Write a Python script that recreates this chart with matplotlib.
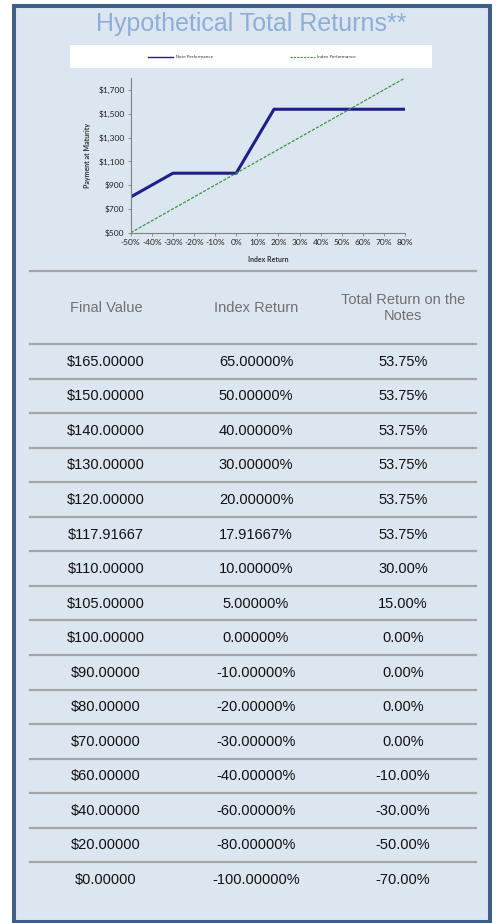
import matplotlib
matplotlib.use('Agg')
import matplotlib.pyplot as plt
from matplotlib.patches import Rectangle
from matplotlib.lines import Line2D

# chart data
note_x = [-50, -30, 0, 17.91667, 80]
note_payment = [800, 1000, 1000, 1537.5, 1537.5]
index_x = [-50, 80]
index_payment = [500, 1800]
x_ticks = list(range(-50, 81, 10))
y_ticks = [500, 700, 900, 1100, 1300, 1500, 1700]

# table data
headers = ['Final Value', 'Index Return', 'Total Return on the\nNotes']
final_values = ['$165.00000', '$150.00000', '$140.00000', '$130.00000', '$120.00000',
                '$117.91667', '$110.00000', '$105.00000', '$100.00000', '$90.00000',
                '$80.00000', '$70.00000', '$60.00000', '$40.00000', '$20.00000', '$0.00000']
index_returns = ['65.00000%', '50.00000%', '40.00000%', '30.00000%', '20.00000%',
                 '17.91667%', '10.00000%', '5.00000%', '0.00000%', '-10.00000%',
                 '-20.00000%', '-30.00000%', '-40.00000%', '-60.00000%', '-80.00000%',
                 '-100.00000%']
note_returns = ['53.75%', '53.75%', '53.75%', '53.75%', '53.75%', '53.75%', '30.00%',
                '15.00%', '0.00%', '0.00%', '0.00%', '0.00%', '-10.00%', '-30.00%',
                '-50.00%', '-70.00%']

W, H = 498, 923
bg = '#dce6f1'
fig = plt.figure(figsize=(W / 100, H / 100), dpi=100)
fig.patch.set_facecolor('white')

def fx(px):
    return px / W

def fy(py):
    return 1 - py / H

# panel with border
fig.patches.append(Rectangle((fx(14), fy(921.5)), fx(489.5) - fx(14), fy(6) - fy(921.5),
                             transform=fig.transFigure, facecolor=bg, edgecolor='#3d5f8c',
                             linewidth=2.9, zorder=-5))

fig.text(fx(251), fy(23.5), 'Hypothetical Total Returns**', ha='center', va='center',
         fontsize=18, color='#8eaed9', family='Liberation Sans')

# legend box
fig.patches.append(Rectangle((fx(70), fy(68)), fx(432) - fx(70), fy(45) - fy(68),
                             transform=fig.transFigure, facecolor='white', edgecolor='none',
                             zorder=-4))

note_color = '#1f1f8a'
index_color = '#3a9a3a'

ax = fig.add_axes([fx(130.7), fy(232.7), fx(405) - fx(130.7), fy(78) - fy(232.7)])
ax.set_facecolor('none')
ax.plot(note_x, note_payment, color=note_color, linewidth=2.2, solid_capstyle='butt')
ax.plot(index_x, index_payment, color=index_color, linewidth=0.9, linestyle=(0, (2.5, 1.2)))
ax.set_xlim(-50, 80)
ax.set_ylim(500, 1800)
ax.set_xticks(x_ticks)
ax.set_xticklabels([f'{t}%' for t in x_ticks])
ax.set_yticks(y_ticks)
ax.set_yticklabels([f'${t:,}' for t in y_ticks])
for s in ['top', 'right']:
    ax.spines[s].set_visible(False)
for s in ['left', 'bottom']:
    ax.spines[s].set_color('#808080')
    ax.spines[s].set_linewidth(0.8)
ax.tick_params(axis='both', labelsize=6, colors='#808080', labelcolor='#222222',
               length=2.5, width=0.6, pad=2)
for lab in ax.get_xticklabels() + ax.get_yticklabels():
    lab.set_family('Lato')
ax.set_xlabel('Index Return', fontsize=5, family='Lato', fontweight='bold',
              color='#333333', labelpad=7)
ax.set_ylabel('Payment at Maturity', fontsize=5, family='Lato', fontweight='bold',
              color='#333333', labelpad=5)

handles = [Line2D([], [], color=note_color, linewidth=1.0),
           Line2D([], [], color=index_color, linewidth=0.8, linestyle=(0, (2, 1)))]
leg = fig.legend(handles, ['Note Performance', 'Index Performance'], loc='center',
                 bbox_to_anchor=(fx(252), fy(57)), ncol=2, frameon=False, fontsize=3,
                 columnspacing=18.5, handlelength=6, handletextpad=0.5)
for t in leg.get_texts():
    t.set_color('#333333')

# table
col_x = [106, 256, 403]
line_color = '#a6a6a6'
fig.add_artist(plt.Line2D([fx(30), fx(476)], [fy(270.7), fy(270.7)], color=line_color,
                          linewidth=1.6, transform=fig.transFigure))
for cx, h in zip(col_x, headers):
    fig.text(fx(cx), fy(308), h, ha='center', va='center', fontsize=10.5,
             color='#707070', family='Liberation Sans', linespacing=1.15)

top = 344
step = 34.55
for i in range(len(final_values)):
    y_line = top + i * step
    fig.add_artist(plt.Line2D([fx(30), fx(476)], [fy(y_line), fy(y_line)], color=line_color,
                              linewidth=1.6, transform=fig.transFigure))
    y_text = y_line + step / 2 + 0.5
    for cx, val in zip(col_x, [final_values[i], index_returns[i], note_returns[i]]):
        fig.text(fx(cx), fy(y_text), val, ha='center', va='center', fontsize=10.5,
                 color='#111111', family='Liberation Sans')

fig.savefig('out.png', dpi=100, facecolor=fig.get_facecolor())
